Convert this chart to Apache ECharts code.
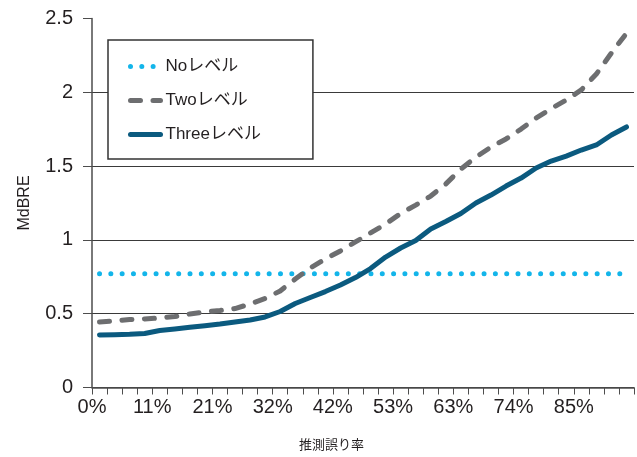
<!DOCTYPE html>
<html>
<head>
<meta charset="utf-8">
<script src="https://cdn.jsdelivr.net/npm/echarts@6/dist/echarts.min.js"></script>
<style>
html,body{margin:0;padding:0;background:#fff}
#main{width:637px;height:457px}
</style>
</head>
<body>
<div id="main"></div>
<script>
// x tick labels, one every 4 steps
var xLabels = ['0%', '11%', '21%', '32%', '42%', '53%', '63%', '74%', '85%'];
var yTicks = [0, 0.5, 1, 1.5, 2, 2.5];

var seriesNames = ['Noレベル', 'Twoレベル', 'Threeレベル'];

var noLevel = [0.77, 0.77, 0.77, 0.77, 0.77, 0.77, 0.77, 0.77, 0.77, 0.77, 0.77, 0.77,
    0.77, 0.77, 0.77, 0.77, 0.77, 0.77, 0.77, 0.77, 0.77, 0.77, 0.77, 0.77,
    0.77, 0.77, 0.77, 0.77, 0.77, 0.77, 0.77, 0.77, 0.77, 0.77, 0.77, 0.77];

var twoLevel = [0.444, 0.451, 0.461, 0.464, 0.471, 0.481, 0.498, 0.512, 0.522, 0.535, 0.566, 0.603,
    0.654, 0.735, 0.810, 0.871, 0.925, 0.986, 1.047, 1.108, 1.179, 1.236, 1.297, 1.379,
    1.480, 1.561, 1.629, 1.684, 1.751, 1.826, 1.890, 1.948, 2.016, 2.124, 2.266, 2.40];

var threeLevel = [0.356, 0.358, 0.360, 0.366, 0.386, 0.396, 0.408, 0.419, 0.430, 0.444, 0.457, 0.478,
    0.515, 0.569, 0.610, 0.650, 0.694, 0.745, 0.806, 0.884, 0.945, 0.996, 1.074, 1.125,
    1.179, 1.250, 1.304, 1.365, 1.419, 1.487, 1.534, 1.568, 1.609, 1.643, 1.711, 1.765];

var colors = ['#13b5ea', '#6d6e70', '#0b5a7f'];
var fontLatin = '"Liberation Sans", Arial, "Noto Sans CJK JP", sans-serif';

function toPoints(arr) {
    return arr.map(function (v, i) { return [i + 0.5, v]; });
}

var chart = echarts.init(document.getElementById('main'), null, {renderer: 'canvas'});

var option = {
    animation: false,
    backgroundColor: '#fff',
    textStyle: {fontFamily: fontLatin, color: '#231f20'},
    title: {
        text: '推測誤り率',
        left: 299,
        top: 438,
        padding: 0,
        textStyle: {fontSize: 13, fontWeight: 'normal', color: '#231f20', fontFamily: '"Noto Sans CJK JP", sans-serif'}
    },
    grid: {left: 92, right: 0, top: 18.5, bottom: 69.5},
    legend: {
        orient: 'vertical',
        left: 108,
        top: 40,
        padding: [18, 52, 16, 20],
        itemGap: 17,
        itemWidth: 30,
        itemHeight: 14,
        borderColor: '#333',
        borderWidth: 1.5,
        backgroundColor: '#fff',
        itemStyle: {opacity: 0},
        lineStyle: {width: 5, cap: 'round'},
        textStyle: {fontSize: 17, color: '#231f20', fontFamily: fontLatin},
        data: seriesNames
    },
    xAxis: {
        type: 'value',
        min: 0,
        max: 36,
        interval: 1,
        axisLine: {lineStyle: {color: '#4d4d4d', width: 1.5}},
        axisTick: {show: true, length: 7, lineStyle: {color: '#4d4d4d', width: 1}},
        axisLabel: {
            margin: 10,
            fontSize: 20,
            color: '#231f20',
            formatter: function (v) {
                return v % 4 === 0 && xLabels[v / 4] ? xLabels[v / 4] : '';
            }
        },
        splitLine: {show: false}
    },
    yAxis: {
        type: 'value',
        min: yTicks[0],
        max: yTicks[yTicks.length - 1],
        interval: 0.5,
        name: 'MdBRE',
        nameLocation: 'middle',
        nameGap: 59,
        nameTextStyle: {fontSize: 16, color: '#231f20'},
        axisLine: {show: true, lineStyle: {color: '#4d4d4d', width: 1.5}},
        axisTick: {show: true, length: 9, lineStyle: {color: '#4d4d4d', width: 1}},
        axisLabel: {margin: 19, fontSize: 20, color: '#231f20'},
        splitLine: {show: true, showMaxLine: false, lineStyle: {color: '#3a3a3a', width: 1}}
    },
    series: [
        {
            name: seriesNames[0],
            type: 'line',
            data: toPoints(noLevel),
            symbol: 'none',
            color: colors[0],
            lineStyle: {width: 5, type: [0.01, 11.3], cap: 'round', color: colors[0]}
        },
        {
            name: seriesNames[1],
            type: 'line',
            data: toPoints(twoLevel),
            symbol: 'none',
            color: colors[1],
            lineStyle: {width: 5, type: [10, 12.5], cap: 'round', join: 'round', color: colors[1]}
        },
        {
            name: seriesNames[2],
            type: 'line',
            data: toPoints(threeLevel),
            symbol: 'none',
            color: colors[2],
            lineStyle: {width: 5, cap: 'round', join: 'round', color: colors[2]}
        }
    ]
};

chart.setOption(option);
</script>
</body>
</html>
